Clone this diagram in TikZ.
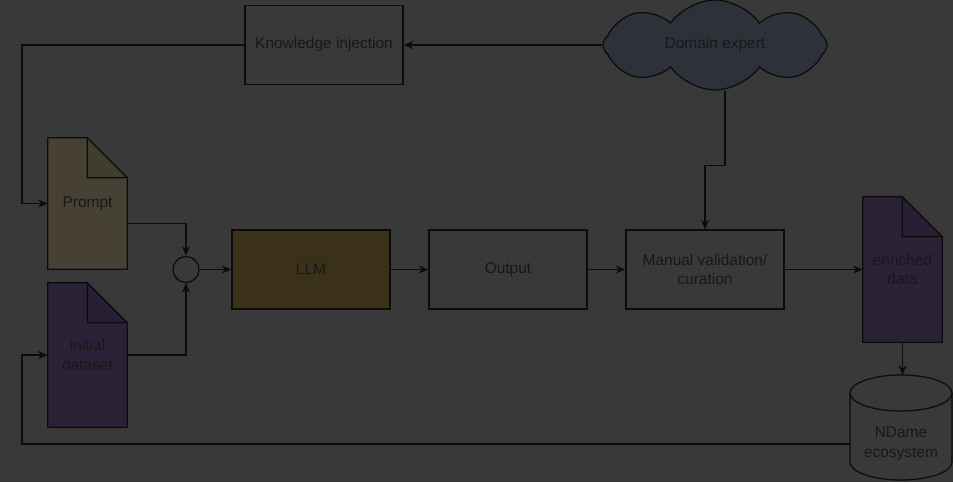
\documentclass[tikz,border=0pt]{standalone}
\usepackage{fontspec}
\setmainfont{Liberation Sans}
\usetikzlibrary{arrows.meta,shapes.symbols,backgrounds}
\definecolor{bgcol}{HTML}{393939}
\definecolor{linecol}{HTML}{0C0C0C}
\definecolor{textcol}{HTML}{181818}
\definecolor{promptfill}{HTML}{464134}
\definecolor{promptfold}{HTML}{403C30}
\definecolor{llmfill}{HTML}{3B3118}
\definecolor{datafill}{HTML}{2B2238}
\definecolor{datafold}{HTML}{281F34}
\definecolor{cloudfill}{HTML}{2D3139}
\begin{document}
\begin{tikzpicture}[
x=0.025cm, y=0.025cm,
font=\fontsize{11}{14}\selectfont, text=textcol,
box/.style={draw=linecol, fill=bgcol, line width=0.9pt, align=center, minimum width=3.95cm, minimum height=1.975cm},
docbox/.style={align=center, minimum width=1.975cm},
arrow/.style={-{Stealth[length=2.4mm,width=2mm]}, draw=linecol, line width=0.9pt}
]
\useasboundingbox (0,0) rectangle (953,482);
\node[box] (know) at (324,437) {Knowledge injection};
\node[cloud, cloud puffs=8, cloud puff arc=110, aspect=2.5, draw=linecol, fill=cloudfill, line width=0.9pt, minimum width=5.6cm, minimum height=2.25cm, inner sep=0pt] (expert) at (715,437) {Domain expert};
\node[docbox, minimum height=3.275cm] (prompt) at (87.5,278.5) {Prompt};
\node[docbox, minimum height=3.6cm] (dataset) at (87.5,127) {initial\\dataset};
\node[circle, draw=linecol, line width=0.9pt, minimum size=0.65cm, inner sep=0pt] (join) at (186,212.5) {};
\node[box, fill=llmfill] (llm) at (311,212.5) {LLM};
\node[box] (output) at (508,212.5) {Output};
\node[box] (manual) at (705,212.5) {Manual validation/\\curation};
\node[docbox, minimum height=3.625cm] (enriched) at (902.5,212.5) {enriched\\data};
\node[align=center, minimum width=2.55cm] (db) at (901,38) {NDame\\ecosystem};
\coordinate (dbtop) at (902.5,107);
\begin{scope}[on background layer]
\fill[bgcol] (0,0) rectangle (953,482);
\foreach \d/\c/\f in {prompt/promptfill/promptfold, dataset/datafill/datafold, enriched/datafill/datafold}{
  \draw[draw=linecol, fill=\c, line width=0.9pt] (\d.south west) -- (\d.north west) -- ([xshift=-1cm]\d.north east) -- ([yshift=-1cm]\d.north east) -- (\d.south east) -- cycle;
  \draw[draw=linecol, fill=\f, line width=0.9pt] ([xshift=-1cm]\d.north east) |- ([yshift=-1cm]\d.north east) -- cycle;
}
\draw[draw=linecol, fill=bgcol, line width=0.9pt] (850,89) -- (850,20) arc[start angle=180, end angle=360, x radius=1.275cm, y radius=0.45cm] -- (952,89) arc[start angle=0, end angle=180, x radius=1.275cm, y radius=0.45cm] -- cycle;
\draw[draw=linecol, line width=0.9pt] (850,89) arc[start angle=180, end angle=360, x radius=1.275cm, y radius=0.45cm];
\end{scope}
\draw[arrow] (expert.west) -- (know.east);
\draw[arrow] (know.west) -- (22,437) |- (prompt.west);
\draw[arrow] ([xshift=0.25cm]expert.south) -- ++(0,-75) -| (manual.north);
\draw[arrow] ([yshift=-0.5cm]prompt.east) -| (join.north);
\draw[arrow] (dataset.east) -| (join.south);
\draw[arrow] (join) -- (llm);
\draw[arrow] (llm) -- (output);
\draw[arrow] (output) -- (manual);
\draw[arrow] (manual) -- (enriched);
\draw[arrow] (enriched.south) -- (dbtop);
\draw[arrow] (db.west) -- (22,38) |- (dataset.west);
\end{tikzpicture}
\end{document}
